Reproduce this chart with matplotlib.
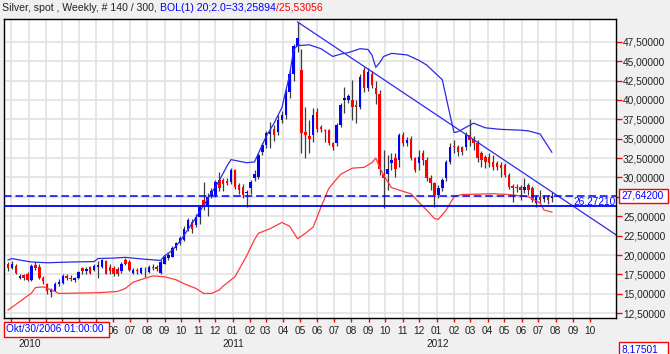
import numpy as np
import pandas as pd
import matplotlib
matplotlib.use('Agg')
import matplotlib.pyplot as plt
import matplotlib.dates as mdates
from matplotlib.patches import Rectangle
from matplotlib.transforms import blended_transform_factory

# weekly silver spot candles
first_week = '2009-11-25'
opens = [18.8, 18.3, 18.6, 17.1, 17.4, 17.6, 16.8, 18.7, 18.5, 17.1,
         16.2, 15.2, 15.4, 16.2, 16.4, 17.3, 17.1, 16.8, 17.0, 18.3,
         17.9, 18.4, 18.1, 18.5, 18.5, 19.2, 18.5, 18.3, 18.2, 17.9,
         19.4, 19.1, 17.7, 18.1, 17.65, 18.2, 17.85, 18.5, 18.5, 17.65,
         18.9, 19.6, 19.8, 20.85, 21.5, 21.9, 23.4, 24.3, 23.9, 24.95,
         27.1, 26.2, 27.6, 27.7, 29.65, 29.65, 29.6, 29.45, 30.95, 29.0,
         28.8, 27.95, 28.7, 29.9, 30.1, 33.3, 34.2, 35.6, 36.3, 35.9,
         37.4, 38.0, 41.05, 43.4, 46.9, 43.85, 35.9, 35.3, 35.5, 38.5,
         36.5, 36.1, 36.1, 34.4, 34.4, 36.75, 40.0, 39.95, 40.0, 39.3,
         39.1, 43.85, 41.5, 43.4, 41.5, 40.8, 30.5, 30.5, 31.8, 32.45,
         32.25, 35.5, 34.4, 35.0, 32.45, 31.8, 33.1, 32.25, 29.9, 29.25,
         27.75, 28.6, 29.9, 32.0, 34.05, 33.95, 33.9, 33.9, 35.5, 34.9,
         34.4, 33.1, 32.7, 32.7, 32.0, 31.8, 31.6, 31.6, 30.3, 28.9,
         28.8, 28.8, 28.4, 29.0, 28.7, 26.65, 27.5, 27.2, 27.45, 27.3]
highs = [19.1, 19.2, 18.8, 17.6, 17.6, 17.8, 18.8, 19.1, 18.8, 17.3,
         16.4, 15.8, 16.5, 16.9, 17.5, 17.6, 17.4, 17.2, 18.0, 18.5,
         18.4, 18.6, 18.8, 19.2, 19.5, 19.3, 18.8, 18.6, 18.4, 19.1,
         19.6, 19.3, 18.3, 18.3, 18.5, 18.5, 18.7, 18.8, 18.7, 19.4,
         20.0, 20.3, 21.1, 21.7, 22.4, 23.7, 24.8, 24.6, 25.3, 26.5,
         29.4, 28.0, 28.6, 29.7, 30.7, 29.9, 29.9, 31.2, 31.1, 29.3,
         29.1, 28.4, 29.7, 30.9, 33.2, 34.5, 36.0, 37.2, 36.8, 38.1,
         38.6, 41.4, 43.8, 47.2, 50.0, 46.6, 39.1, 37.4, 38.9, 39.0,
         36.8, 36.3, 36.3, 34.6, 37.0, 39.6, 41.7, 40.8, 42.6, 40.0,
         43.3, 44.2, 44.1, 43.7, 42.4, 41.3, 33.6, 32.9, 33.1, 33.1,
         35.7, 35.8, 35.2, 35.3, 32.7, 33.5, 33.5, 32.6, 30.3, 29.4,
         29.0, 29.9, 32.3, 34.4, 34.8, 34.2, 34.1, 35.8, 37.6, 35.3,
         34.8, 33.4, 32.9, 33.1, 32.9, 32.1, 32.0, 31.9, 30.6, 29.2,
         29.1, 29.0, 29.9, 29.3, 28.9, 27.8, 28.4, 27.7, 27.8, 28.1]
lows = [17.9, 18.2, 17.5, 16.9, 16.8, 16.6, 16.6, 18.1, 16.9, 16.2,
        15.0, 14.6, 15.3, 16.0, 16.2, 16.8, 16.7, 16.5, 16.9, 17.6,
        17.6, 17.5, 17.9, 17.0, 18.3, 17.5, 17.6, 17.3, 17.3, 17.7,
        18.7, 17.9, 17.5, 17.6, 17.5, 17.2, 17.7, 18.1, 17.9, 17.5,
        18.8, 19.4, 19.7, 20.6, 21.3, 21.8, 23.1, 22.8, 23.6, 24.0,
        25.8, 25.0, 27.3, 27.5, 28.2, 28.3, 29.0, 29.2, 28.5, 27.9,
        27.4, 26.25, 27.9, 29.6, 29.8, 32.9, 33.8, 33.8, 34.7, 35.5,
        37.0, 37.6, 40.3, 42.5, 46.2, 33.1, 32.45, 33.1, 34.6, 35.8,
        35.9, 34.6, 34.2, 33.5, 34.1, 36.5, 38.3, 39.6, 37.4, 37.0,
        38.8, 41.0, 41.2, 41.5, 39.5, 30.3, 26.0, 28.4, 30.9, 30.1,
        31.4, 34.0, 34.0, 32.2, 30.7, 31.0, 31.6, 29.5, 28.4, 26.2,
        27.4, 28.3, 29.5, 31.7, 33.2, 32.8, 32.9, 33.5, 34.1, 33.6,
        32.0, 31.3, 31.2, 31.3, 31.0, 31.0, 30.1, 30.0, 28.5, 26.9,
        28.1, 27.1, 28.0, 27.8, 26.8, 26.2, 26.7, 26.8, 26.6, 26.9]
closes = [18.3, 18.8, 17.7, 17.3, 17.1, 16.8, 18.6, 18.3, 17.0, 16.6,
          15.3, 15.5, 16.3, 16.5, 17.3, 17.0, 16.9, 17.0, 17.8, 17.9,
          18.2, 17.7, 18.6, 18.7, 19.3, 17.6, 17.9, 17.5, 17.5, 18.8,
          18.9, 18.05, 18.05, 17.9, 18.3, 18.15, 18.5, 18.3, 18.15, 19.15,
          19.8, 20.0, 20.85, 21.5, 22.15, 23.4, 24.5, 23.4, 24.95, 26.2,
          26.2, 27.5, 28.2, 29.45, 28.6, 29.2, 29.3, 30.95, 28.8, 28.4,
          27.75, 28.15, 29.35, 30.5, 32.9, 34.2, 35.7, 35.8, 35.5, 37.4,
          38.0, 41.05, 43.4, 46.9, 48.0, 35.7, 35.5, 34.9, 38.05, 36.3,
          36.3, 36.05, 34.4, 33.95, 36.75, 39.3, 40.2, 40.5, 39.1, 39.1,
          43.0, 41.5, 43.6, 41.9, 40.8, 31.15, 29.9, 31.15, 32.2, 31.15,
          35.5, 34.4, 34.8, 32.45, 30.95, 32.7, 32.25, 29.9, 29.25, 27.75,
          28.6, 29.65, 32.0, 33.95, 33.9, 33.3, 33.3, 35.5, 34.8, 34.4,
          32.45, 32.25, 32.0, 31.8, 31.4, 31.4, 31.2, 30.3, 28.8, 28.6,
          28.6, 28.4, 28.8, 28.4, 27.1, 27.5, 27.1, 27.45, 27.1, 27.64]

# Bollinger band (20;2.0) vertices: candle number -> value
upper_idx = [0, 1, 3, 6, 10, 16, 22, 23, 27, 30, 34, 39, 40, 42, 44, 46, 48, 50,
             52, 54, 56, 57, 59, 61, 63, 64, 66, 68, 70, 72, 73, 74, 77, 80, 83,
             85, 87, 90, 92, 93, 94, 95, 96, 98, 102, 105, 107, 111, 113, 114,
             115, 119, 122, 126, 131, 133, 136, 139]
upper_val = [19.35, 19.55, 19.35, 19.1, 19.0, 19.1, 19.15, 19.55, 19.6, 19.7,
             19.5, 19.3, 19.9, 20.6, 21.8, 23.3, 24.8, 26.4, 28.0, 29.6, 31.5,
             32.3, 32.1, 31.9, 32.0, 33.1, 35.3, 37.0, 39.0, 43.3, 46.5, 47.0,
             47.1, 46.6, 45.6, 45.9, 46.1, 46.6, 46.5, 45.8, 44.2, 44.8, 45.6,
             46.0, 45.8, 45.1, 44.5, 42.6, 38.0, 35.8, 35.9, 37.0, 36.4, 36.2,
             36.1, 36.0, 35.6, 33.25894]
lower_idx = [0, 6, 7, 9, 12, 13, 23, 28, 30, 31, 32, 35, 37, 40, 43, 45, 48, 50,
             52, 54, 55, 58, 61, 63, 64, 67, 70, 72, 74, 76, 78, 80, 82, 85, 88,
             91, 93, 94, 95, 96, 98, 101, 103, 105, 107, 109, 110, 112, 114, 116,
             124, 128, 133, 136, 137, 139]
lower_val = [12.9, 15.1, 15.8, 15.9, 15.3, 15.05, 15.14, 15.3, 15.7, 16.1, 16.5,
             17.0, 17.3, 17.2, 16.8, 16.3, 15.7, 15.05, 15.05, 15.5, 16.0, 17.2,
             19.9, 22.0, 22.8, 23.4, 24.2, 23.7, 22.1, 22.8, 23.6, 26.2, 28.6,
             30.4, 31.2, 31.3, 31.9, 32.5, 31.3, 30.3, 28.7, 28.2, 27.9, 26.8,
             25.8, 24.7, 24.6, 25.8, 27.5, 27.8, 27.9, 27.8, 27.5, 26.7, 25.8,
             25.53056]

# drawn objects
trend_dates = ['2011-04-27', '2012-11-17']
trend_vals = [50.05, 22.6]
level_line = 26.2721
last_price = 27.642
cursor_text = 'Okt/30/2006 01:00:00'
corner_value = '8,17501'

yticks = np.arange(12.5, 47.6, 2.5)

BLUE = '#0000ff'
RED = '#ff0000'
WICK = '#3c3c3c'
GRID = '#e2e2e2'
BG = '#f0f0f0'
TXT = '#222222'
FONT = 'Liberation Sans'
FS = 7.3

plt.rcParams['font.family'] = [FONT, 'DejaVu Sans']

W, H = 670, 354
fig = plt.figure(figsize=(W / 100, H / 100), dpi=100, facecolor=BG)
ax = fig.add_axes([4 / W, 1 - 318 / H, 612 / W, 299 / H])
ax.set_facecolor('white')

dates = pd.date_range(first_week, periods=len(closes), freq='7D')
xd = mdates.date2num(dates)
o = np.array(opens)
c = np.array(closes)
hi = np.array(highs)
lo = np.array(lows)

ax.vlines(xd, lo, hi, color=WICK, lw=0.9, zorder=3)
up = c >= o
body_bottom = np.minimum(o, c)
body_h = np.maximum(np.abs(c - o), 0.1)
ax.bar(xd, body_h, bottom=body_bottom, width=4.4,
       color=np.where(up, BLUE, RED), linewidth=0, zorder=4)

ax.plot(xd[upper_idx], upper_val, color='#2a2ae6', lw=0.9, zorder=5)
ax.plot(xd[lower_idx], lower_val, color='#ff3a3a', lw=0.9, zorder=5)

ax.plot(mdates.date2num(pd.to_datetime(trend_dates)), trend_vals,
        color='#2a2ae6', lw=0.9, zorder=5)
ax.axhline(level_line, color=BLUE, lw=1.3, zorder=5)
ax.axhline(last_price, color=BLUE, lw=1.1, ls=(0, (5, 2.5)), zorder=5)

x_left = mdates.date2num(pd.Timestamp(first_week)) - 7.2
ax.set_xlim(x_left, x_left + 1095)
ax.set_ylim(11.88, 50.43)

# month ticks and grid (labels under the cursor box are hidden there)
months = pd.date_range('2009-12-01', '2012-10-01', freq='MS')
first_label = pd.Timestamp('2010-06-01')
mx = mdates.date2num(months)
ax.set_xticks(mx)
ax.set_xticklabels([m.strftime('%m') if m >= first_label else ''
                    for m in months])
ax.set_yticks(yticks)
# the 27,5 label sits under the last-price box
ax.set_yticklabels(['' if abs(v - last_price) < 0.5 else
                    f'{v:.5f}'.replace('.', ',') for v in yticks])
ax.yaxis.tick_right()
ax.grid(True, color=GRID, lw=1.2, zorder=0)
ax.set_axisbelow(True)
ax.tick_params(axis='x', colors=RED, labelcolor=TXT, length=3, width=1,
               labelsize=FS, pad=3)
ax.tick_params(axis='y', colors=RED, labelcolor=TXT, length=4, width=1,
               labelsize=FS, pad=1)
for s in ax.spines.values():
    s.set_color('black')
    s.set_linewidth(1)

# year labels under January
bt = blended_transform_factory(ax.transData, fig.transFigure)
for m in months:
    if m.month == 1:
        ax.text(mdates.date2num(m) + 1.5, 1 - 344 / H, str(m.year),
                transform=bt, ha='center', va='center', fontsize=FS,
                color=TXT)

ax.text(1.0, level_line, f'{level_line:.5f}'.replace('.', ','),
        transform=blended_transform_factory(ax.transAxes, ax.transData),
        ha='right', va='bottom', fontsize=FS, color=BLUE, zorder=6)

# title line in three colours
renderer = fig.canvas.get_renderer()
x = 2
for piece, col in [('Silver, spot , Weekly, # 140 / 300, ', TXT),
                   ('BOL(1) 20;2.0=33,25894', BLUE),
                   ('/25,53056', RED)]:
    t = fig.text(x / W, 1 - 8 / H, piece, color=col, fontsize=7.6,
                 ha='left', va='center')
    x += t.get_window_extent(renderer).width


def box(x0, y0, w, h, text):
    fig.add_artist(Rectangle((x0 / W, 1 - (y0 + h) / H), w / W, h / H,
                             transform=fig.transFigure, facecolor='white',
                             edgecolor=RED, lw=1, zorder=10))
    fig.text((x0 + 2.5) / W, 1 - (y0 + h / 2) / H, text, color=BLUE,
             fontsize=FS, ha='left', va='center', zorder=11)


box(4, 322, 105, 15, cursor_text)
box(619, 342, 49, 15, corner_value)
ly = ax.transData.transform((0, last_price))[1]
box(619, H - ly - 7, 49, 14, f'{last_price:.5f}'.replace('.', ','))

fig.savefig('out.png', dpi=100, facecolor=BG)
